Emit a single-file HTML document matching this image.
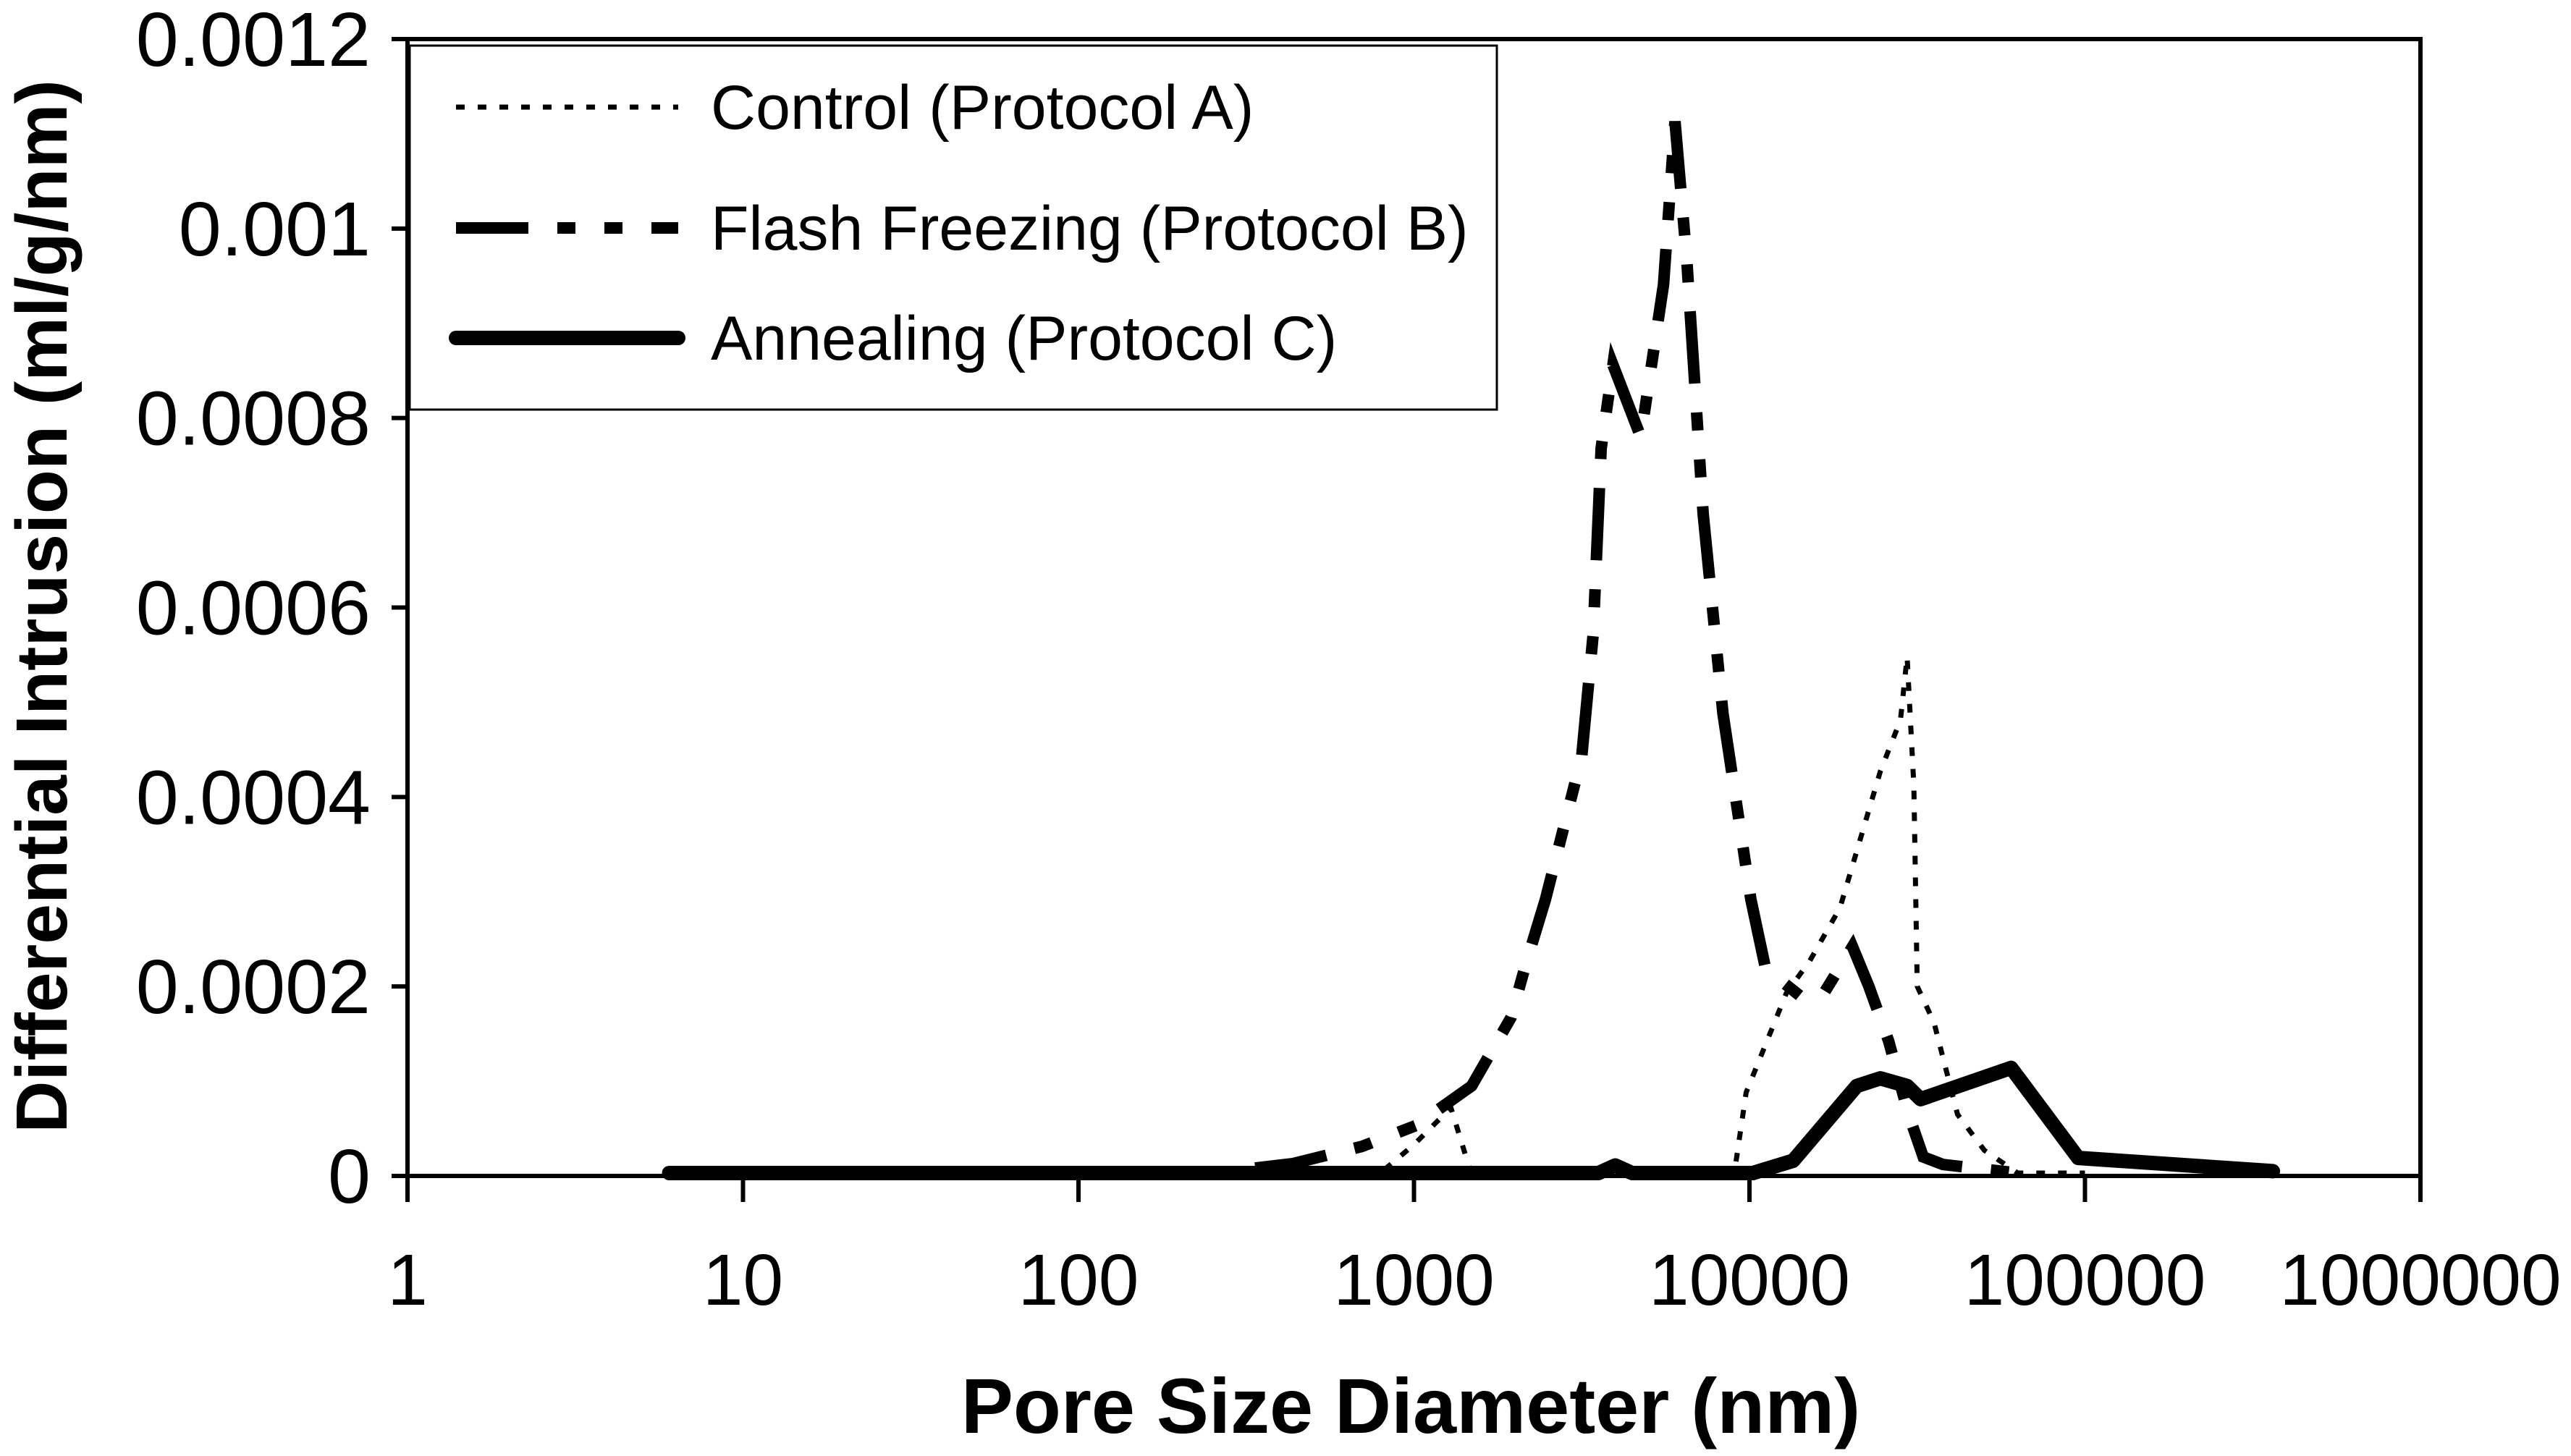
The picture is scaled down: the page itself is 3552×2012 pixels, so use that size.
<!DOCTYPE html>
<html><head><meta charset="utf-8"><style>
html,body{margin:0;padding:0;background:#fff}
svg{display:block}
text{font-family:"Liberation Sans",Arial,sans-serif;fill:#000}
</style></head><body>
<svg id="chart" width="3552" height="2012" viewBox="0 0 3552 2012" xmlns="http://www.w3.org/2000/svg">
<g id="axes"></g>
<g id="series"></g>
<g>
  <rect x="566" y="63" width="1502" height="503" fill="#fff" stroke="#000" stroke-width="3"/>
  <line x1="630" y1="148" x2="937" y2="148" stroke="#000" stroke-width="7" stroke-dasharray="12 18"/>
  <text x="982" y="178" font-size="86">Control (Protocol A)</text>
  <line x1="630" y1="315" x2="937" y2="315" stroke="#000" stroke-width="16" stroke-dasharray="100 40 25 40 25 40"/>
  <text x="982" y="345" font-size="86">Flash Freezing (Protocol B)</text>
  <line x1="630" y1="467" x2="937" y2="467" stroke="#000" stroke-width="20" stroke-linecap="round"/>
  <text x="982" y="497" font-size="86">Annealing (Protocol C)</text>
</g>
<text x="1949" y="1980" font-size="108" font-weight="bold" text-anchor="middle">Pore Size Diameter (nm)</text>
<text transform="translate(92,838) rotate(-90)" font-size="100" font-weight="bold" text-anchor="middle">Differential Intrusion (ml/g/nm)</text>
</svg>
<script>
const xTickLabels = ["1","10","100","1000","10000","100000","1000000"];
const yTicks = [0,0.0002,0.0004,0.0006,0.0008,0.001,0.0012];
const yTickLabels = ["0","0.0002","0.0004","0.0006","0.0008","0.001","0.0012"];
// log10(diameter) and values
const controlX = [0.78,2.9,3.0,3.11,3.17,3.955,3.99,4.11,4.18,4.27,4.39,4.45,4.47,4.49,4.50,4.55,4.62,4.70,4.80,5.0];
const controlY = [0,0,0.00003,0.000069,0,0,0.000085,0.00019,0.000224,0.00028,0.000424,0.000478,0.000545,0.000409,0.000197,0.000159,0.000062,0.000024,0,0];
const flashX = [0.78,2.40,2.64,2.844,3.005,3.172,3.289,3.333,3.392,3.50,3.534,3.558,3.593,3.676,3.744,3.778,3.813,3.862,3.921,4.004,4.048,4.165,4.224,4.307,4.356,4.415,4.474,4.518,4.577,4.80];
const flashY = [0,0,0.00001,0.000028,0.00005,0.000092,0.000164,0.00022,0.000289,0.00044,0.000568,0.000765,0.000853,0.000777,0.000938,0.00111,0.000965,0.000696,0.000485,0.000289,0.000216,0.000183,0.000191,0.000239,0.000197,0.000139,0.000062,0.000017,0.000009,0];
const annealX = [0.78,3.55,3.6,3.65,4.01,4.13,4.32,4.39,4.47,4.51,4.78,4.98,5.56];
const annealY = [0,0,0.000008,0,0,0.000013,0.000092,0.0001,0.000092,0.000078,0.000111,0.000016,0.000002];

const X0=563, DEC=463.5, Y0=1625, YTOP=54, YMAX=0.0012;
const sx = l => X0 + l*DEC;
const sy = v => Y0 - v/YMAX*(Y0-YTOP);
const NS="http://www.w3.org/2000/svg";
const axes=document.getElementById('axes'), ser=document.getElementById('series');
function mk(tag, attrs, parent){const e=document.createElementNS(NS,tag);for(const k in attrs)e.setAttribute(k,attrs[k]);parent.appendChild(e);return e;}

const frame = mk('rect',{x:X0,y:YTOP,width:sx(6)-X0,height:Y0-YTOP,fill:'none',stroke:'#000','stroke-width':6},axes);


xTickLabels.forEach((t,i)=>{
  const tk=mk('line',{x1:sx(i),x2:sx(i),y1:Y0,y2:Y0+36,stroke:'#000','stroke-width':6},axes);
  
  
  const tx=mk('text',{x:sx(i),y:1803,'font-size':100,'text-anchor':'middle'},axes);
  tx.textContent=t;
  
  
});
yTicks.forEach((v,i)=>{
  const tk=mk('line',{x1:X0-22,x2:X0,y1:sy(v),y2:sy(v),stroke:'#000','stroke-width':6},axes);
  
  
  const tx=mk('text',{x:512,y:sy(v)+37,'font-size':106,'text-anchor':'end'},axes);
  tx.textContent=yTickLabels[i];
  
  
});
function path(xs,ys){return xs.map((l,i)=>(i?'L':'M')+sx(l).toFixed(1)+','+(sy(ys[i])-4).toFixed(1)).join(' ');}
const pA=mk('path',{d:path(controlX,controlY),fill:'none',stroke:'#000','stroke-width':7,'stroke-dasharray':'12 18'},ser);


const pB=mk('path',{d:path(flashX,flashY),fill:'none',stroke:'#000','stroke-width':16,'stroke-dasharray':'100 40 25 40 25 40'},ser);


const pC=mk('path',{d:path(annealX,annealY),fill:'none',stroke:'#000','stroke-width':20,'stroke-linejoin':'round','stroke-linecap':'round'},ser);


</script>
</body></html>
